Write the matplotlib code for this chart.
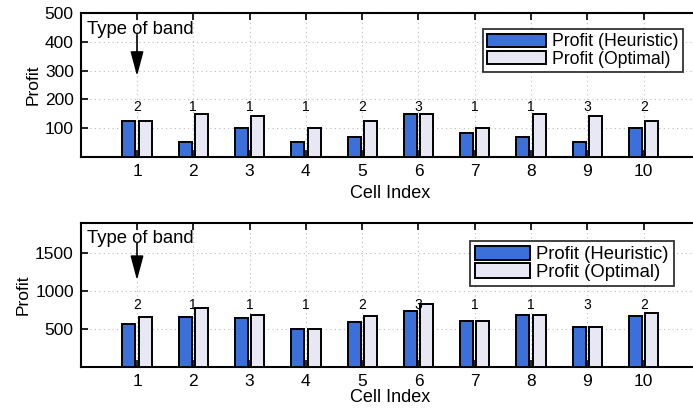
import matplotlib
matplotlib.use("Agg")
import matplotlib.pyplot as plt
import numpy as np

plt.rcParams['font.family'] = ['Liberation Sans', 'DejaVu Sans']

cells = [1, 2, 3, 4, 5, 6, 7, 8, 9, 10]
band_types = [2, 1, 1, 1, 2, 3, 1, 1, 3, 2]
top_heuristic = [125, 53, 100, 52, 68, 150, 83, 69, 52, 100]
top_optimal = [125, 150, 142, 100, 125, 150, 100, 150, 142, 125]
bot_heuristic = [562, 658, 637, 492, 591, 737, 605, 680, 520, 671]
bot_optimal = [650, 768, 680, 492, 667, 821, 605, 680, 530, 710]

W, H = 693, 408
fig = plt.figure(figsize=(W / 100, H / 100), dpi=100)

c_heur = '#3A70D8'
c_opt = '#E8E8F5'

def make_ax(top_px, bot_px, heur, opt, ylim, yticks, lab_y, txt_y, arr_tail, arr_tip,
            legfs, hlen, legbox, xlabpad):
    left = 80.7 / W
    right = 700.0 / W
    ax = fig.add_axes([left, 1 - bot_px / H, right - left, (bot_px - top_px) / H])
    x = np.array(cells, dtype=float)
    ax.bar(x - 0.145, heur, width=0.23, color=c_heur, edgecolor='black', linewidth=1.4,
           label='Profit (Heuristic)', zorder=3)
    ax.bar(x + 0.145, opt, width=0.23, color=c_opt, edgecolor='black', linewidth=1.4,
           label='Profit (Optimal)', zorder=3)
    ax.set_xlim(0, 11)
    ax.set_ylim(*ylim)
    ax.set_xticks(cells)
    ax.set_yticks(yticks)
    ax.grid(True, linestyle=(0, (1, 3)), color='#BBBBBB', linewidth=0.8, zorder=0)
    ax.tick_params(direction='in', length=5, width=1.2, labelsize=12.5, top=True,
                   right=False, pad=5)
    for s in ax.spines.values():
        s.set_linewidth(1.5)
    ax.spines['right'].set_visible(False)
    ax.set_ylabel('Profit', fontsize=12.5, labelpad=3)
    ax.set_xlabel('Cell Index', fontsize=13, labelpad=xlabpad)
    for xi, b in zip(cells, band_types):
        ax.text(xi, lab_y, str(b), ha='center', va='center', fontsize=10, zorder=4)
    ax.text(0.12, txt_y, 'Type of band', ha='left', va='center', fontsize=13.3)
    ax.annotate('', xy=(1, arr_tip), xytext=(1, arr_tail),
                arrowprops=dict(arrowstyle='-|>,head_length=1.5,head_width=0.4',
                                mutation_scale=10,
                                color='black', lw=1.2, shrinkA=0, shrinkB=0))
    leg = ax.legend(loc='upper left', bbox_to_anchor=legbox, bbox_transform=fig.transFigure,
                    fontsize=legfs, frameon=True, fancybox=False, edgecolor='black',
                    handlelength=hlen, handleheight=0.8, handletextpad=0.35, borderpad=0.25,
                    labelspacing=0.02, borderaxespad=0)
    leg.get_frame().set_linewidth(1.3)
    return ax

make_ax(13, 157, top_heuristic, top_optimal, (0, 500), [100, 200, 300, 400, 500],
        175, 444, 425, 281, 12.7, 3.3, (483 / W, 1 - 29 / H), 4)
make_ax(222.7, 366.7, bot_heuristic, bot_optimal, (0, 1900), [500, 1000, 1500],
        810, 1690, 1630, 1141, 13.3, 3.0, (470 / W, 1 - 241 / H), 0.5)

fig.savefig('out.png', dpi=100)
